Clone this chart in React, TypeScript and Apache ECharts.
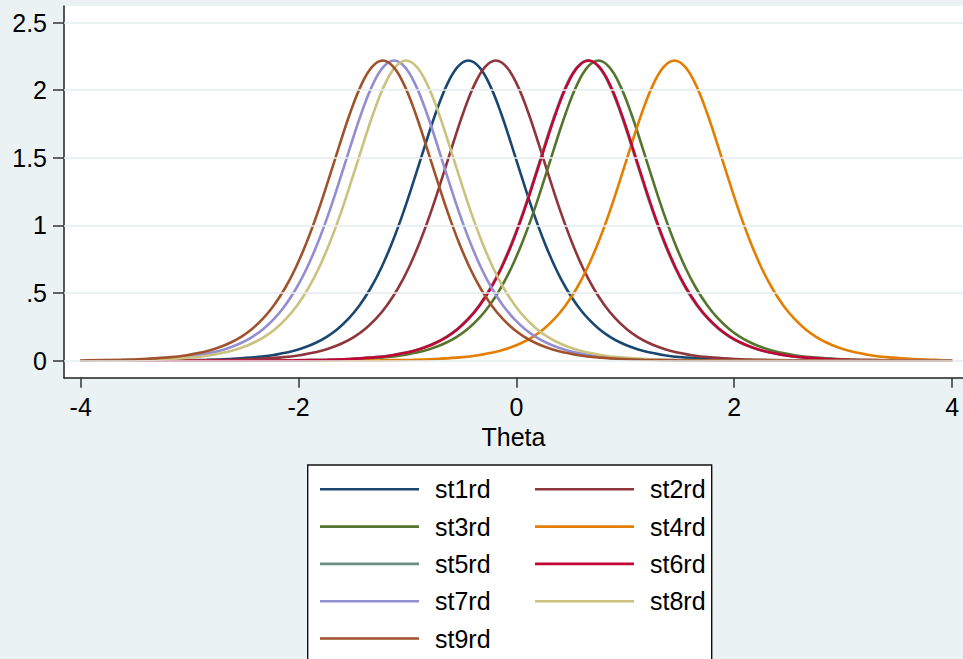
import React, { useEffect, useRef } from "react";
import * as echarts from "echarts";

// Item information curves (2PL), one per item
const itemNames = ["st1rd", "st2rd", "st3rd", "st4rd", "st5rd", "st6rd", "st7rd", "st8rd", "st9rd"];
// theta where each item's information peaks
const itemLocations = [-0.441, -0.189, 0.753, 1.451, 0.657, 0.663, -1.123, -1.013, -1.227];
const itemColors = ["#1A476F", "#90353B", "#55752F", "#E37E00", "#6E8E84", "#C10534", "#938DD2", "#CAC27E", "#A0522D"];

// shared curve shape: information at a distance from the item's location
const thetaOffsets = [
  -6, -5, -4, -3.5, -3, -2.7, -2.4, -2.2, -2, -1.8, -1.6, -1.5, -1.4, -1.3, -1.2, -1.1, -1, -0.9, -0.8, -0.7,
  -0.6, -0.5, -0.4, -0.3, -0.2, -0.1, 0, 0.1, 0.2, 0.3, 0.4, 0.5, 0.6, 0.7, 0.8, 0.9, 1, 1.1, 1.2, 1.3, 1.4,
  1.5, 1.6, 1.8, 2, 2.2, 2.4, 2.7, 3, 3.5, 4, 5, 6,
];
const infoProfile = [
  0, 0, 0.0001, 0.0003, 0.0012, 0.0028, 0.0069, 0.0126, 0.023, 0.041, 0.074, 0.099, 0.133, 0.177, 0.235, 0.311,
  0.409, 0.532, 0.686, 0.873, 1.09, 1.333, 1.587, 1.83, 2.034, 2.171, 2.22, 2.171, 2.034, 1.83, 1.587, 1.333,
  1.09, 0.873, 0.686, 0.532, 0.409, 0.311, 0.235, 0.177, 0.133, 0.099, 0.074, 0.041, 0.023, 0.0126, 0.0069,
  0.0028, 0.0012, 0.0003, 0.0001, 0, 0,
];

const thetaTicks = [-4, -2, 0, 2, 4];
const infoTicks = [0, 0.5, 1, 1.5, 2, 2.5];
const thetaRange = [-4, 4];

const FONT = "'Liberation Sans', Arial, Helvetica, sans-serif";
const FS = 25;
const BG = "#EAF2F3";

function curveFor(loc: number): number[][] {
  const pts: number[][] = [[thetaRange[0], 0]];
  thetaOffsets.forEach((d, i) => {
    const t = loc + d;
    if (t > thetaRange[0] && t < thetaRange[1]) pts.push([t, infoProfile[i]]);
  });
  pts.push([thetaRange[1], 0]);
  return pts;
}

export default function App() {
  const ref = useRef<HTMLDivElement>(null);

  useEffect(() => {
    if (!ref.current) return;
    const chart = echarts.init(ref.current, null, { renderer: "svg" });

    const series: any[] = itemNames.map((name, i) => ({
      name,
      type: "line",
      data: curveFor(itemLocations[i]),
      symbol: "none",
      smooth: 0.4,
      lineStyle: { color: itemColors[i], width: 2.6 },
      itemStyle: { color: itemColors[i] },
      z: 3,
    }));

    // horizontal reference lines at the labelled information values
    series.unshift({
      name: "grid",
      type: "line",
      data: [],
      symbol: "none",
      silent: true,
      z: 1,
      markLine: {
        silent: true,
        symbol: "none",
        label: { show: false },
        lineStyle: { color: "#E4ECEF", width: 1.6, type: "solid" },
        data: infoTicks.map((v) => ({ yAxis: v })),
        animation: false,
      },
    });

    const legendCommon = {
      orient: "vertical",
      top: 476.8,
      padding: 0,
      icon: "rect",
      itemWidth: 99,
      itemHeight: 2.6,
      itemGap: 12.3,
      textStyle: { fontFamily: FONT, fontSize: FS, color: "#000", lineHeight: 25, padding: [0, 0, 0, 11] },
      selectedMode: false,
      z: 5,
    };

    chart.setOption({
      animation: false,
      backgroundColor: BG,
      textStyle: { fontFamily: FONT },
      grid: {
        left: 64,
        top: 6,
        right: 0,
        bottom: 281.3,
        show: true,
        backgroundColor: "#FFFFFF",
        borderWidth: 0,
      },
      xAxis: {
        type: "value",
        min: -4.153,
        max: 4.1,
        name: "Theta",
        nameLocation: "middle",
        nameGap: 41,
        nameTextStyle: { fontFamily: FONT, fontSize: FS, color: "#000" },
        axisLine: { show: true, onZero: false, lineStyle: { color: "#222", width: 1.5 } },
        axisTick: { show: true, length: 10, customValues: thetaTicks, lineStyle: { color: "#333", width: 1.5 } },
        axisLabel: {
          customValues: thetaTicks,
          margin: 17,
          fontFamily: FONT,
          fontSize: FS,
          color: "#000",
          formatter: (v: number) => String(v),
        },
        splitLine: { show: false },
      },
      yAxis: {
        type: "value",
        min: -0.1256,
        max: 2.623,
        axisLine: { show: true, onZero: false, lineStyle: { color: "#222", width: 1.5 } },
        axisTick: { show: true, length: 11, customValues: infoTicks, lineStyle: { color: "#333", width: 1.5 } },
        axisLabel: {
          customValues: infoTicks,
          margin: 17,
          fontFamily: FONT,
          fontSize: FS,
          color: "#000",
          formatter: (v: number) => (v === 0 ? "0" : String(v).replace(/^0\./, ".")),
        },
        splitLine: { show: false },
      },
      legend: [
        { ...legendCommon, left: 320, data: ["st1rd", "st3rd", "st5rd", "st7rd", "st9rd"] },
        { ...legendCommon, left: 535, data: ["st2rd", "st4rd", "st6rd", "st8rd"] },
      ],
      graphic: [
        {
          type: "rect",
          left: 307,
          top: 464.3,
          z: 1,
          shape: { width: 404, height: 260 },
          style: { fill: "#FFFFFF", stroke: "#111", lineWidth: 1.4 },
          silent: true,
        },
      ],
      series,
    });

    return () => chart.dispose();
  }, []);

  return <div ref={ref} style={{ width: 963, height: 659, position: "absolute", left: 0, top: 0 }} />;
}
